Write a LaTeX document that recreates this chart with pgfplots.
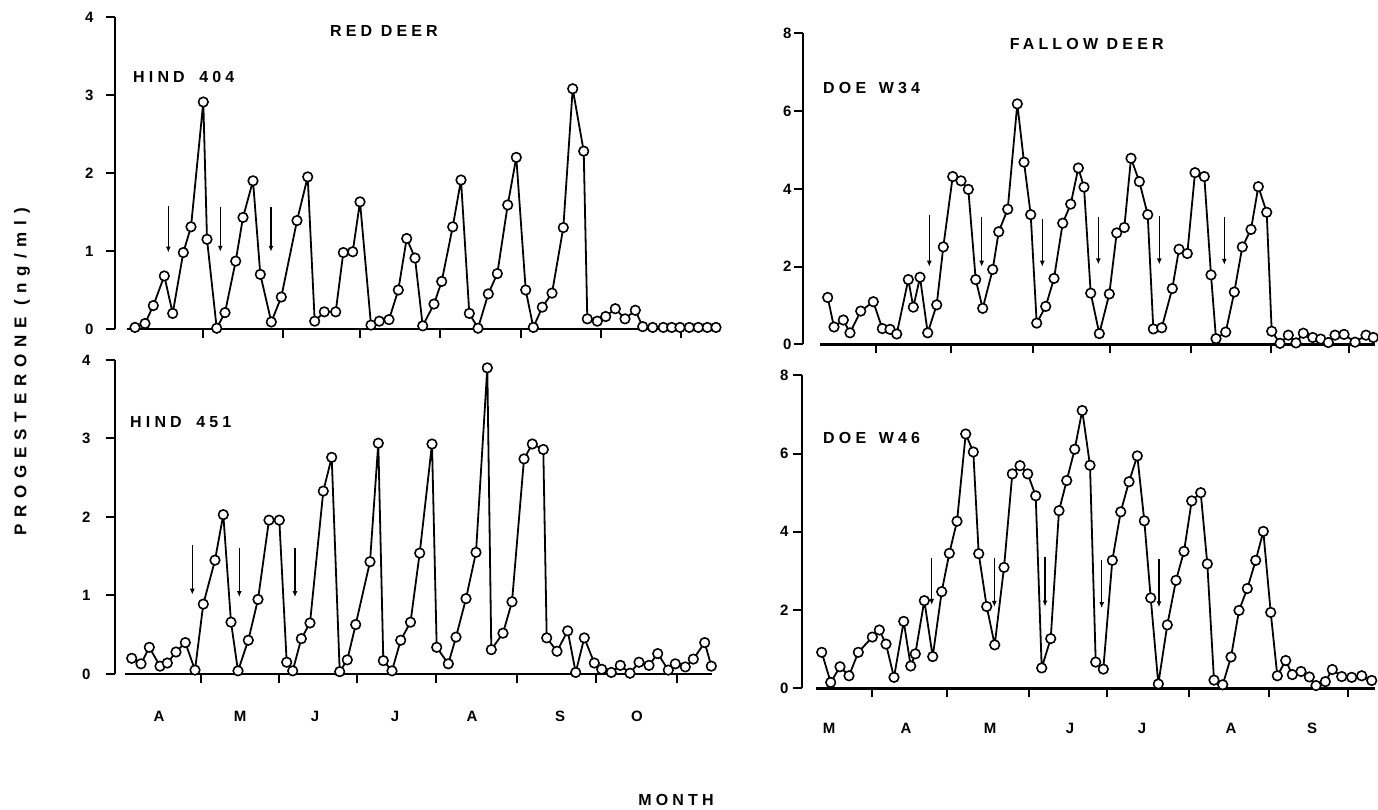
\documentclass[border=0pt]{standalone}
\usepackage{fontspec}
\setmainfont{Liberation Sans}
\newfontfamily\trk[LetterSpace=26]{Liberation Sans Bold}
\newfontfamily\trkb[LetterSpace=40]{Liberation Sans Bold}
\usepackage{pgfplots}
\pgfplotsset{compat=1.18}
\usetikzlibrary{arrows.meta}

\pgfplotsset{
  deer/.style={
    scale only axis, enlargelimits=false, clip=false,
    axis x line=bottom, axis y line=left,
    axis line style={-, line width=2.6bp},
    tick align=outside,
    major tick length=9bp,
    tick style={line width=2bp, black},
    xticklabels={,,,,,,,},
    tick label style={font=\fontsize{15bp}{17bp}\selectfont\bfseries},
    /pgf/number format/assume math mode=true,
  },
  series/.style={black, line width=1.8bp, line join=round, mark=*, mark size=4.8bp,
    mark options={fill=white, draw=black, line width=1.6bp, solid}},
}
\newcommand\arr[3]{\draw[line width=1.5bp, -{Latex[length=6bp,width=5bp]}] (axis cs:#1,#2) -- (axis cs:#1,#3);}

\pgfplotstableread{
x y
135 0.02
145 0.07
153.3 0.30
164.3 0.68
172.7 0.20
183.3 0.98
191 1.31
203.3 2.91
207 1.15
216.7 0.01
225 0.21
235.7 0.87
243 1.43
253 1.90
260.3 0.70
271.3 0.09
281.3 0.41
297 1.39
307.7 1.95
314.7 0.10
324.3 0.22
335.7 0.22
343.3 0.98
352.7 0.99
360 1.63
371 0.05
379.3 0.10
389 0.12
398.3 0.50
406.7 1.16
415 0.91
422.7 0.04
434 0.32
441.7 0.61
452.7 1.31
461 1.91
469.3 0.20
478 0.01
488.3 0.45
497.3 0.71
507.7 1.59
516.3 2.20
525.7 0.50
533.3 0.02
542.3 0.28
552 0.46
563.3 1.30
572.7 3.08
583.7 2.28
587.3 0.13
597.3 0.10
605.7 0.16
615.3 0.26
625 0.13
635.3 0.24
642.7 0.03
652.7 0.02
663.3 0.02
671.7 0.02
680 0.02
689.3 0.02
698.3 0.02
707.3 0.02
716 0.02
}\hindA

\pgfplotstableread{
x y
131.7 0.20
141 0.13
149.3 0.34
160 0.10
167.3 0.14
176 0.28
185.3 0.40
195 0.05
203.3 0.89
215 1.45
223.3 2.03
231 0.66
238 0.04
248.3 0.43
258 0.95
269 1.96
279.3 1.96
286.7 0.15
292.7 0.04
301.3 0.45
310 0.65
323.3 2.33
331.7 2.76
339.7 0.03
347.3 0.18
355.7 0.63
370 1.43
378.3 2.94
383.3 0.17
392 0.04
400.7 0.43
410.5 0.66
419.7 1.54
432 2.93
436.7 0.34
448.3 0.13
456 0.47
466 0.96
476 1.55
487.3 3.90
491.3 0.31
503 0.52
512 0.92
524 2.74
532.3 2.93
543.3 2.86
546.7 0.46
557 0.29
567.7 0.55
575.7 0.02
584.3 0.46
594.3 0.14
601.7 0.06
611.3 0.02
620.3 0.11
630 0.01
639 0.15
649 0.11
657.7 0.26
668.3 0.05
675.3 0.13
685.3 0.09
693.3 0.19
704.7 0.40
711.3 0.10
}\hindB

\pgfplotstableread{
x y
827.7 1.21
834 0.45
843.3 0.63
850 0.30
860.7 0.86
873.3 1.10
882.3 0.41
890 0.39
896.7 0.27
908.3 1.67
913.3 0.96
920 1.73
927.7 0.30
936.7 1.02
943.3 2.51
952.7 4.32
961 4.21
968.3 3.99
975.7 1.67
982.7 0.93
992.7 1.93
998.7 2.90
1007.7 3.48
1017.3 6.19
1024 4.69
1030.7 3.34
1036.7 0.55
1045.7 0.98
1054 1.70
1062.7 3.12
1070.7 3.61
1078.3 4.54
1084 4.05
1090.7 1.32
1099.3 0.28
1109.3 1.30
1116.7 2.87
1124.3 3.01
1131 4.79
1139.3 4.19
1147.7 3.34
1153.3 0.40
1161.7 0.43
1172.3 1.44
1179 2.45
1187.3 2.34
1195 4.42
1204.3 4.32
1211 1.79
1216 0.15
1225.7 0.32
1234.3 1.35
1242.3 2.51
1251 2.96
1258.3 4.06
1266.7 3.40
1271.7 0.34
1280 0.03
1288.3 0.24
1296 0.04
1303.3 0.29
1312.7 0.18
1320.7 0.14
1328.3 0.05
1335 0.24
1344 0.26
1355 0.06
1366 0.24
1373.3 0.18
}\doeA

\pgfplotstableread{
x y
821.7 0.92
830.7 0.15
840 0.55
849 0.32
858.3 0.92
872.3 1.31
879.3 1.49
886 1.13
894 0.28
903.7 1.71
910.7 0.57
915.3 0.88
924.3 2.24
932.7 0.81
941.7 2.47
949.3 3.45
957 4.27
965.7 6.50
973.3 6.04
978.7 3.44
986.7 2.09
994.7 1.11
1004 3.09
1012.3 5.48
1020 5.69
1027.7 5.48
1035.7 4.92
1041.7 0.52
1050.7 1.27
1059 4.54
1066.7 5.31
1074.7 6.11
1082.2 7.10
1090 5.70
1095.7 0.67
1103.3 0.49
1112.3 3.27
1120.7 4.51
1129 5.28
1137.3 5.94
1144.3 4.28
1150.7 2.31
1158.3 0.11
1167.3 1.62
1176 2.76
1184 3.50
1191.7 4.79
1200.7 5.00
1207.3 3.18
1214 0.21
1222.7 0.09
1231 0.80
1239 1.99
1247.3 2.55
1255.7 3.27
1263.3 4.01
1270.7 1.94
1277.3 0.32
1285.7 0.71
1292.3 0.35
1301 0.43
1309.3 0.29
1316 0.07
1325.3 0.17
1332.3 0.48
1341.7 0.30
1351.7 0.28
1361.7 0.32
1371.7 0.20
}\doeB

\begin{document}
\begin{tikzpicture}
\useasboundingbox (0,0) rectangle (1378bp,810bp);

% ---------- RED DEER, HIND 404 ----------
\begin{axis}[deer, at={(115bp,481bp)}, anchor=south west,
  width=605bp, height=312bp, xmin=115, xmax=720, ymin=0, ymax=4,
  ytick={0,1,2,3,4}, yticklabel style={xshift=-9bp},
  x axis line style={shorten <=12bp},
  xtick={203,283,360,440,521,601,681}]
  \addplot[series] table[x=x,y=y] {\hindA};
  \arr{168.3}{1.58}{0.98}
  \arr{220.3}{1.57}{0.99}
  \arr{271}{1.57}{0.99}
\end{axis}

% ---------- RED DEER, HIND 451 ----------
\begin{axis}[deer, at={(115bp,136bp)}, anchor=south west,
  width=597bp, height=314bp, xmin=115, xmax=712, ymin=0, ymax=4,
  ytick={0,1,2,3,4}, yticklabel style={xshift=-12bp},
  x axis line style={shorten <=10bp},
  xtick={200.7,279.3,357.3,436,517.3,596,677.3},
  extra x ticks={159,240,315,395,472,560,637},
  extra x tick labels={A,M,J,J,A,S,O},
  extra x tick style={tick style={draw=none}, xticklabel style={yshift=-25bp}}]
  \addplot[series] table[x=x,y=y] {\hindB};
  \arr{192.3}{1.64}{1.01}
  \arr{239.3}{1.61}{0.98}
  \arr{295}{1.61}{0.98}
\end{axis}

% ---------- FALLOW DEER, DOE W34 ----------
\begin{axis}[deer, at={(803bp,465.5bp)}, anchor=south west,
  width=572bp, height=311bp, xmin=803, xmax=1375, ymin=0, ymax=8,
  ytick={0,2,4,6,8}, yticklabel style={xshift=1bp},
  x axis line style={shorten <=17bp},
  xtick={875.7,951,1032.7,1110,1190.7,1270.7,1349.3}]
  \addplot[series] table[x=x,y=y] {\doeA};
  \arr{929.3}{3.32}{2.0}
  \arr{981.7}{3.28}{2.0}
  \arr{1042.3}{3.23}{2.0}
  \arr{1098.3}{3.29}{2.06}
  \arr{1159.3}{3.30}{2.06}
  \arr{1224.3}{3.27}{2.05}
\end{axis}

% ---------- FALLOW DEER, DOE W46 ----------
\begin{axis}[deer, at={(802bp,121.7bp)}, anchor=south west,
  width=573bp, height=313bp, xmin=802, xmax=1375, ymin=0, ymax=8,
  ytick={0,2,4,6,8}, yticklabel style={xshift=-1bp},
  x axis line style={shorten <=14bp},
  xtick={871.7,947.3,1029.3,1106.7,1189,1269,1348.3},
  extra x ticks={829,906,990,1070,1142,1231,1312},
  extra x tick labels={M,A,M,J,J,A,S},
  extra x tick style={tick style={draw=none}, xticklabel style={yshift=-22bp}}]
  \addplot[series] table[x=x,y=y] {\doeB};
  \arr{931.7}{3.32}{2.13}
  \arr{994.3}{3.34}{2.08}
  \arr{1045}{3.35}{2.09}
  \arr{1101.7}{3.29}{2.05}
  \arr{1159}{3.30}{2.07}
\end{axis}

% ---------- texts ----------
\tikzset{lab/.style={font={\trk\fontsize{16bp}{18bp}\selectfont}, inner sep=0pt}}
\node[lab] at (384bp,778.5bp) {RED DEER};
\node[lab, anchor=west] at (133bp,733.3bp) {HIND\hspace{6bp} 404};
\node[lab, anchor=west] at (130bp,388.3bp) {HIND\hspace{6bp} 451};
\node[lab] at (1086.7bp,766bp) {FALLOW DEER};
\node[lab, anchor=west] at (823bp,721.7bp) {DOE\hspace{4bp} W34};
\node[lab, anchor=west] at (823bp,371.7bp) {DOE\hspace{4bp} W46};
\node[font={\trkb\fontsize{17bp}{19bp}\selectfont}, inner sep=0pt, rotate=90] at (22bp,438bp) {PROGESTERONE (ng/ml)};
\node[lab] at (676bp,10bp) {MONTH};
\end{tikzpicture}
\end{document}
